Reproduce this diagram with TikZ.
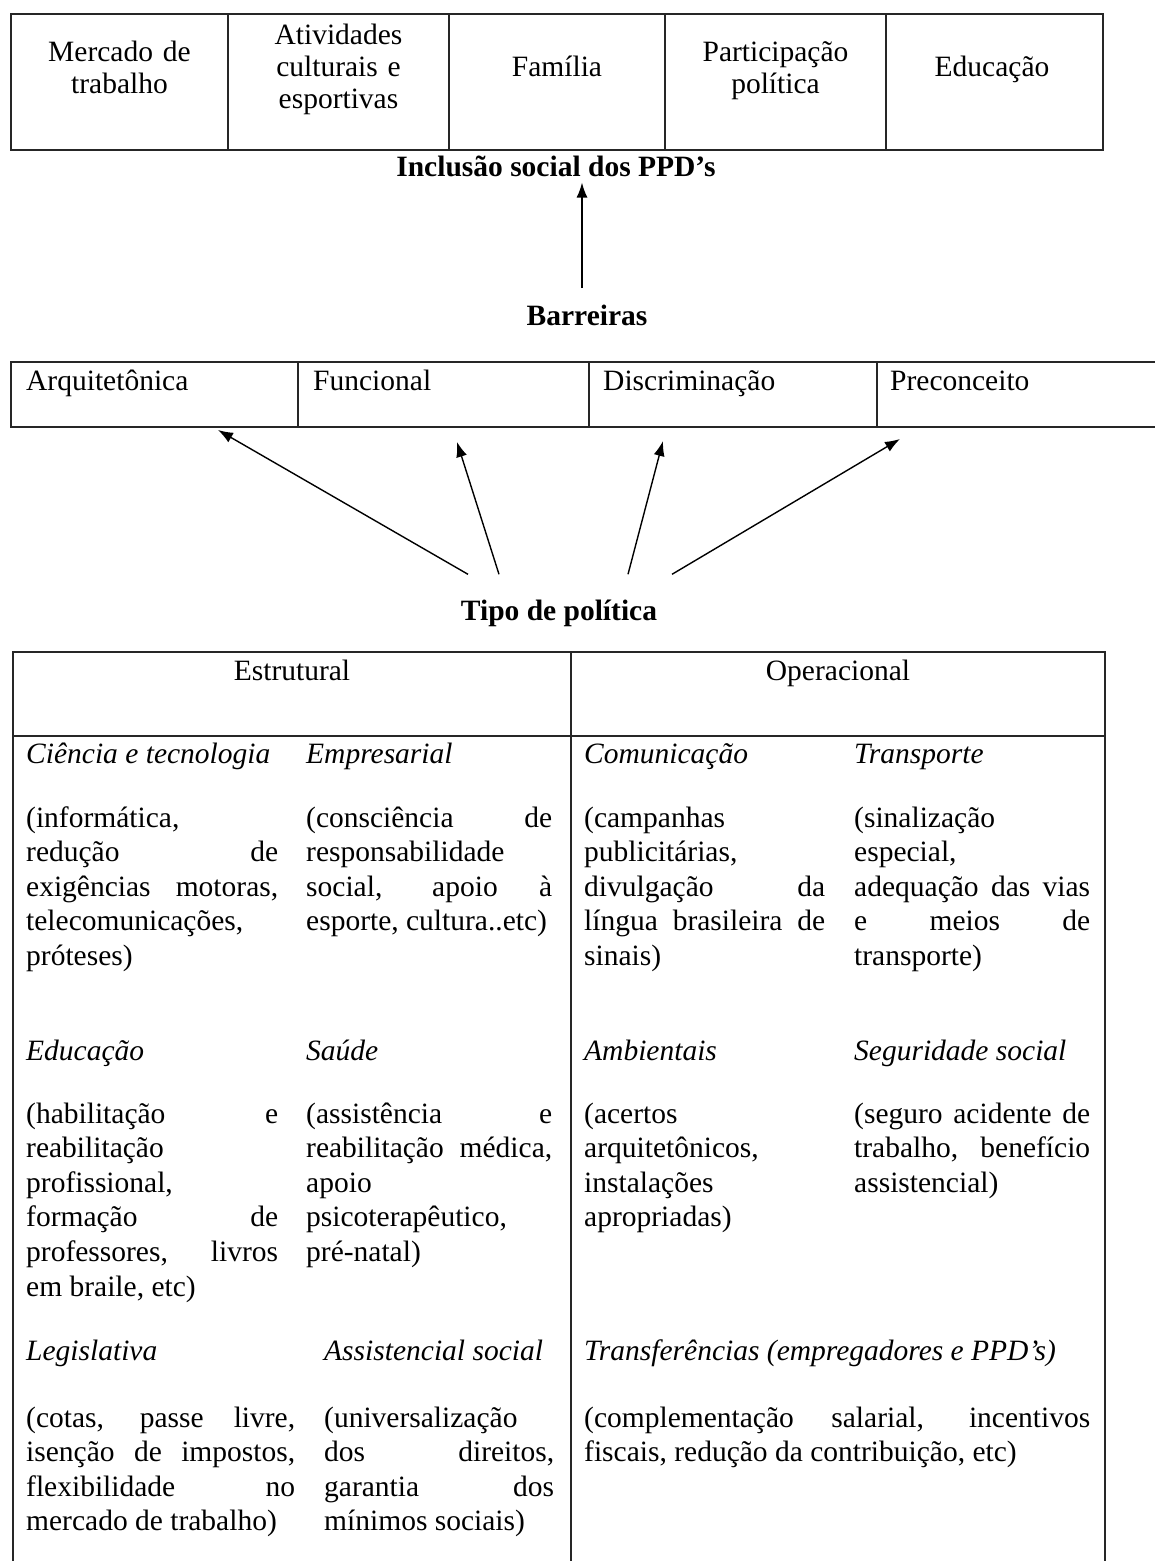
\documentclass[tikz,border=0pt]{standalone}
\usepackage{fontspec}
\setmainfont{Liberation Serif}
\usepackage{tikz}
\usetikzlibrary{arrows.meta,positioning}
\tolerance=10000
\hbadness=10000
\hyphenpenalty=10000
\exhyphenpenalty=10000

\tikzset{
  linha/.style={line width=1.6pt, black!85},
  seta/.style={-{Latex[length=15pt,width=11pt]}, line width=1.4pt},
  caixa/.style={font=\fontsize{29.5}{32}\selectfont, inner sep=0pt, anchor=base, text width=200pt, align=center},
  rotulo/.style={font=\fontsize{29.5}{34.6}\selectfont\bfseries, inner sep=0pt, anchor=base},
  cabeca/.style={font=\fontsize{29.5}{34.6}\selectfont, inner sep=0pt, anchor=base},
  barreira/.style={font=\fontsize{29.5}{34.6}\selectfont, inner sep=0pt, anchor=base west},
  titulo/.style={font=\fontsize{29.5}{34.6}\selectfont\itshape, inner sep=0pt, anchor=base west},
  texto/.style={font=\fontsize{29.5}{34.6}\selectfont, inner sep=0pt, anchor=base west, text width=#1pt, align=justify}
}

\begin{document}
\begin{tikzpicture}[x=1pt,y=-1pt]
    \useasboundingbox (0,0) rectangle (1155,1561);

    \draw[linha] (11,14) rectangle (1103,150);
    \foreach \x in {228,449,665,886} \draw[linha] (\x,14) -- (\x,150);
    \node[caixa] (mercado) at (119.5,61.5) {Mercado de\\trabalho};
    \node[caixa] (atividades) at (338.5,44) {Atividades\\culturais e\\esportivas};
    \node[caixa] (familia) at (557,76) {Família};
    \node[caixa] (participacao) at (775.5,61.5) {Participação\\política};
    \node[caixa] (educacao) at (992,76) {Educação};

    \node[rotulo] (inclusao) at (556,176) {Inclusão social dos PPD’s};
    \node[rotulo] (barreiras) at (587,325) {Barreiras};
    \coordinate (barr-topo) at (582,288);
    \draw[seta] (barr-topo) -- ([yshift=-6pt]barr-topo |- inclusao.south);

    \draw[linha] (1155,362) -- (11,362) -- (11,427) -- (1155,427);
    \foreach \x in {298,589,877} \draw[linha] (\x,362) -- (\x,427);
    \node[barreira] (arq) at (26,390) {Arquitetônica};
    \node[barreira] (func) at (313,390) {Funcional};
    \node[barreira] (discr) at (603,390) {Discriminação};
    \node[barreira] (prec) at (890,390) {Preconceito};

    \node[rotulo] (tipo) at (559,620) {Tipo de política};
    \coordinate (p-arq) at (218,430);
    \coordinate (p-func) at (457,442);
    \coordinate (p-discr) at (663,441);
    \coordinate (p-prec) at (900,439);
    \draw[seta] ([xshift=-91pt,yshift=25pt]tipo.north) -- (p-arq);
    \draw[seta] ([xshift=-60pt,yshift=25pt]tipo.north) -- (p-func);
    \draw[seta] ([xshift=69pt,yshift=25pt]tipo.north) -- (p-discr);
    \draw[seta] ([xshift=113pt,yshift=25pt]tipo.north) -- (p-prec);

    \draw[linha] (13,1561) -- (13,652) -- (1105,652) -- (1105,1561);
    \draw[linha] (13,736) -- (1105,736);
    \draw[linha] (571,652) -- (571,1561);
    \node[cabeca] (estrutural) at (292,680) {Estrutural};
    \node[cabeca] (operacional) at (838,680) {Operacional};

    \node[titulo] (h-ciencia) at (26,763) {Ciência e tecnologia};
    \node[titulo] (h-empresarial) at (306,763) {Empresarial};
    \node[titulo] (h-comunicacao) at (584,763) {Comunicação};
    \node[titulo] (h-transporte) at (854,763) {Transporte};
    \node[texto=252] (t-ciencia) at (26,827) {(informática,\linebreak redução de\linebreak exigências motoras,\linebreak telecomunicações,\linebreak próteses)};
    \node[texto=246] (t-empresarial) at (306,827) {(consciência de\linebreak responsabilidade\linebreak social, apoio à\linebreak esporte, cultura..etc)};
    \node[texto=241] (t-comunicacao) at (584,827) {(campanhas\linebreak publicitárias,\linebreak divulgação da\linebreak língua brasileira de\linebreak sinais)};
    \node[texto=236] (t-transporte) at (854,827) {(sinalização\linebreak especial,\linebreak adequação das vias\linebreak e meios de\linebreak transporte)};

    \node[titulo] (h-educacao) at (26,1060) {Educação};
    \node[titulo] (h-saude) at (306,1060) {Saúde};
    \node[titulo] (h-ambientais) at (584,1060) {Ambientais};
    \node[titulo] (h-seguridade) at (854,1060) {Seguridade social};
    \node[texto=252] (t-educacao) at (26,1123) {(habilitação e\linebreak reabilitação\linebreak profissional,\linebreak formação de\linebreak professores, livros\linebreak em braile, etc)};
    \node[texto=246] (t-saude) at (306,1123) {(assistência e\linebreak reabilitação médica,\linebreak apoio\linebreak psicoterapêutico,\linebreak pré-natal)};
    \node[texto=241] (t-ambientais) at (584,1123) {(acertos\linebreak arquitetônicos,\linebreak instalações\linebreak apropriadas)};
    \node[texto=236] (t-seguridade) at (854,1123) {(seguro acidente de\linebreak trabalho, benefício\linebreak assistencial)};

    \node[titulo] (h-legislativa) at (26,1360) {Legislativa};
    \node[titulo] (h-assistencial) at (324,1360) {Assistencial social};
    \node[titulo] (h-transferencias) at (584,1360) {Transferências (empregadores e PPD’s)};
    \node[texto=269] (t-legislativa) at (26,1427) {(cotas, passe livre,\linebreak isenção de impostos,\linebreak flexibilidade no\linebreak mercado de trabalho)};
    \node[texto=230] (t-assistencial) at (324,1427) {(universalização\linebreak dos direitos,\linebreak garantia dos\linebreak mínimos sociais)};
    \node[texto=506] (t-transferencias) at (584,1427) {(complementação salarial, incentivos\linebreak fiscais, redução da contribuição, etc)};
\end{tikzpicture}
\end{document}
